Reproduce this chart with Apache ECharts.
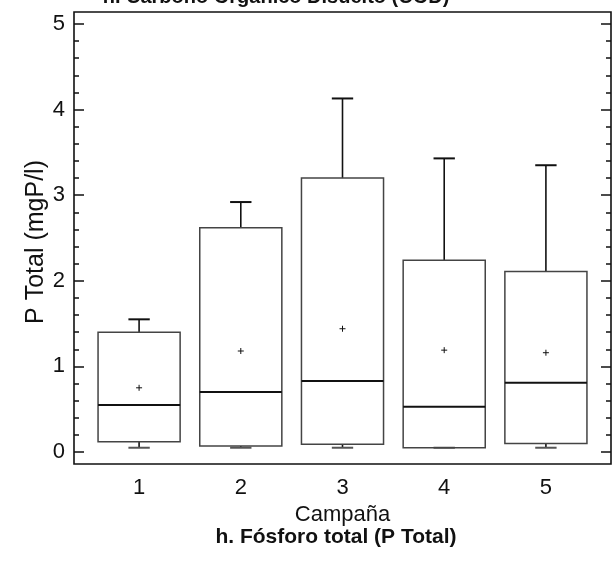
<!DOCTYPE html>
<html>
<head>
<meta charset="utf-8">
<script src="https://cdn.jsdelivr.net/npm/echarts@6/dist/echarts.min.js"></script>
<style>html,body{margin:0;padding:0;background:#fff;}#c{width:615px;height:566px;}</style>
</head>
<body>
<div id="c"></div>
<script>
// ---- data ----
var campaigns = [1, 2, 3, 4, 5];
var whiskerLow = [0.05, 0.05, 0.05, 0.05, 0.05];
var q1 = [0.12, 0.07, 0.09, 0.05, 0.10];
var median = [0.55, 0.70, 0.83, 0.53, 0.81];
var q3 = [1.40, 2.62, 3.20, 2.24, 2.11];
var whiskerHigh = [1.55, 2.92, 4.13, 3.43, 3.35];
var means = [0.75, 1.18, 1.44, 1.19, 1.16];
var yTicks = [0, 1, 2, 3, 4, 5];
var yMinorTicks = [0.2, 0.4, 0.6, 0.8, 1.2, 1.4, 1.6, 1.8, 2.2, 2.4, 2.6, 2.8, 3.2, 3.4, 3.6, 3.8, 4.2, 4.4, 4.6, 4.8];
var xLabel = 'Campaña';
var yLabel = 'P Total (mgP/l)';
var topTitle = 'h. Carbono Orgánico Disuelto (COD)';
var bottomTitle = 'h. Fósforo total (P Total)';

var FONT = '"Liberation Sans", Arial, sans-serif';
var seriesData = campaigns.map(function (c, i) {
  return [c, whiskerLow[i], q1[i], median[i], q3[i], whiskerHigh[i], means[i]];
});

var BOX_W = 0.807, CAP_W = 0.21;

function renderItem(params, api) {
  var x = api.value(0);
  var half = api.size([BOX_W, 0])[0] / 2;
  var capHalf = api.size([CAP_W, 0])[0] / 2;
  var pLo = api.coord([x, api.value(1)]);
  var pQ1 = api.coord([x, api.value(2)]);
  var pMed = api.coord([x, api.value(3)]);
  var pQ3 = api.coord([x, api.value(4)]);
  var pHi = api.coord([x, api.value(5)]);
  var pMean = api.coord([x, api.value(6)]);
  var cx = pMed[0];
  var lineStyle = { stroke: '#111', lineWidth: 1.6, fill: null };
  var children = [
    { type: 'line', shape: { x1: cx, y1: pQ3[1], x2: cx, y2: pHi[1] }, style: lineStyle },
    { type: 'line', shape: { x1: cx - capHalf, y1: pHi[1], x2: cx + capHalf, y2: pHi[1] }, style: { stroke: '#111', lineWidth: 2 } },
    { type: 'line', shape: { x1: cx, y1: pQ1[1], x2: cx, y2: pLo[1] }, style: lineStyle },
    { type: 'line', shape: { x1: cx - capHalf, y1: pLo[1], x2: cx + capHalf, y2: pLo[1] }, style: { stroke: '#555', lineWidth: 2 } },
    { type: 'rect', shape: { x: cx - half, y: pQ3[1], width: 2 * half, height: pQ1[1] - pQ3[1] }, style: { stroke: '#444', lineWidth: 1.5, fill: 'none' } },
    { type: 'line', shape: { x1: cx - half, y1: pMed[1], x2: cx + half, y2: pMed[1] }, style: { stroke: '#111', lineWidth: 2 } },
    { type: 'line', shape: { x1: pMean[0] - 3, y1: pMean[1], x2: pMean[0] + 3, y2: pMean[1] }, style: { stroke: '#111', lineWidth: 1 } },
    { type: 'line', shape: { x1: pMean[0], y1: pMean[1] - 3, x2: pMean[0], y2: pMean[1] + 3 }, style: { stroke: '#111', lineWidth: 1 } }
  ];
  return { type: 'group', children: children };
}

function yAxisDef(pos, values, len, showLabel) {
  return {
    type: 'value', position: pos, min: -0.14, max: 5.14,
    axisLine: { show: false },
    splitLine: { show: false },
    axisTick: { show: true, inside: true, length: len, customValues: values, lineStyle: { color: '#111', width: 1.5 } },
    axisLabel: { show: showLabel, customValues: yTicks, margin: 9, fontSize: 22, color: '#111', fontFamily: FONT }
  };
}

var chart = echarts.init(document.getElementById('c'), null, { renderer: 'canvas' });
chart.setOption({
  animation: false,
  backgroundColor: '#fff',
  grid: { left: 74, right: 4, top: 12, bottom: 102, show: true, borderColor: '#111', borderWidth: 1.6, backgroundColor: 'transparent' },
  xAxis: {
    type: 'value', min: 0.36, max: 5.64,
    axisLine: { show: false }, splitLine: { show: false }, axisTick: { show: false },
    axisLabel: { customValues: campaigns, margin: 13, fontSize: 22, color: '#111', fontFamily: FONT },
    name: xLabel, nameLocation: 'middle', nameGap: 36,
    nameTextStyle: { fontSize: 22, color: '#111', fontFamily: FONT }
  },
  yAxis: [
    yAxisDef('left', yTicks, 10, true),
    yAxisDef('left', yMinorTicks, 5, false),
    yAxisDef('right', yTicks, 10, false),
    yAxisDef('right', yMinorTicks, 5, false)
  ],
  graphic: [
    { type: 'text', x: 276, y: -3, style: { text: topTitle, textAlign: 'center', textVerticalAlign: 'middle', font: 'bold 20px ' + FONT, fill: '#111' } },
    { type: 'text', x: 336, y: 537, style: { text: bottomTitle, textAlign: 'center', textVerticalAlign: 'middle', font: 'bold 21px ' + FONT, fill: '#111' } },
    { type: 'text', x: 36, y: 242, rotation: Math.PI / 2, style: { text: yLabel, textAlign: 'center', textVerticalAlign: 'middle', font: '25px ' + FONT, fill: '#111' } }
  ],
  series: [{
    type: 'custom',
    renderItem: renderItem,
    data: seriesData,
    encode: { x: 0, y: [1, 2, 3, 4, 5, 6] },
    clip: false
  }]
});
</script>
</body>
</html>
